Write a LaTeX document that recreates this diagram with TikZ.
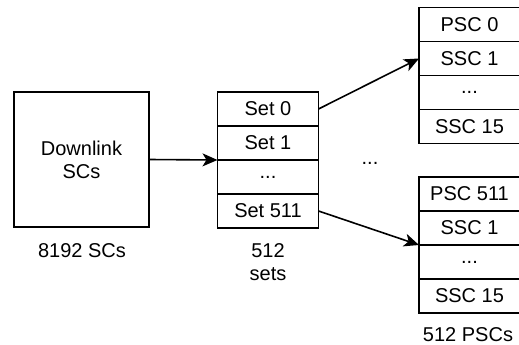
\documentclass[tikz,border=0pt]{standalone}
\usepackage{fontspec}
\setmainfont{Liberation Sans}
\usetikzlibrary{positioning,arrows.meta}

\begin{document}
\begin{tikzpicture}[
    x=1pt, y=-1pt,
    font=\fontsize{20}{23}\selectfont,
    every node/.style={outer sep=0pt},
    cell/.style={draw, line width=1.6pt, minimum width=101pt, minimum height=34pt, inner sep=0pt},
    big box/.style={draw, line width=1.6pt, minimum width=135pt, minimum height=135pt, align=center},
    normal line/.style={line width=1.6pt, -{Stealth[length=15pt,width=13pt,inset=4pt]}}
    ]
\useasboundingbox (0,0) rectangle (519,345);
\node[big box] (dl) at (81.5,159.5) {Downlink\\SCs};
\node (dlcount) at (82,251) {8192 SCs};

\node[cell] (set0) at (268,109) {Set 0};
\node[cell, below=0pt of set0] (set1) {Set 1};
\node[cell, below=0pt of set1] (set2) {...};
\node[cell, below=0pt of set2] (set3) {Set 511};
\node[align=center] (setcount) at (268,262) {512\\sets};

\node[cell] (pa0) at (469.5,24.5) {PSC 0};
\node[cell, below=0pt of pa0] (pa1) {SSC 1};
\node[cell, below=0pt of pa1] (pa2) {...};
\node[cell, below=0pt of pa2] (pa3) {SSC 15};

\node (gap) at (370,163) {...};

\node[cell] (pb0) at (469.5,194) {PSC 511};
\node[cell, below=0pt of pb0] (pb1) {SSC 1};
\node[cell, below=0pt of pb1] (pb2) {...};
\node[cell, below=0pt of pb2] (pb3) {SSC 15};
\node (psccount) at (468,335) {512 PSCs};

\path (dl.east) edge[normal line] (set1.south west);
\path (set0.east) edge[normal line] (pa1.west);
\path (set3.east) edge[normal line] (pb1.south west);
\end{tikzpicture}
\end{document}
